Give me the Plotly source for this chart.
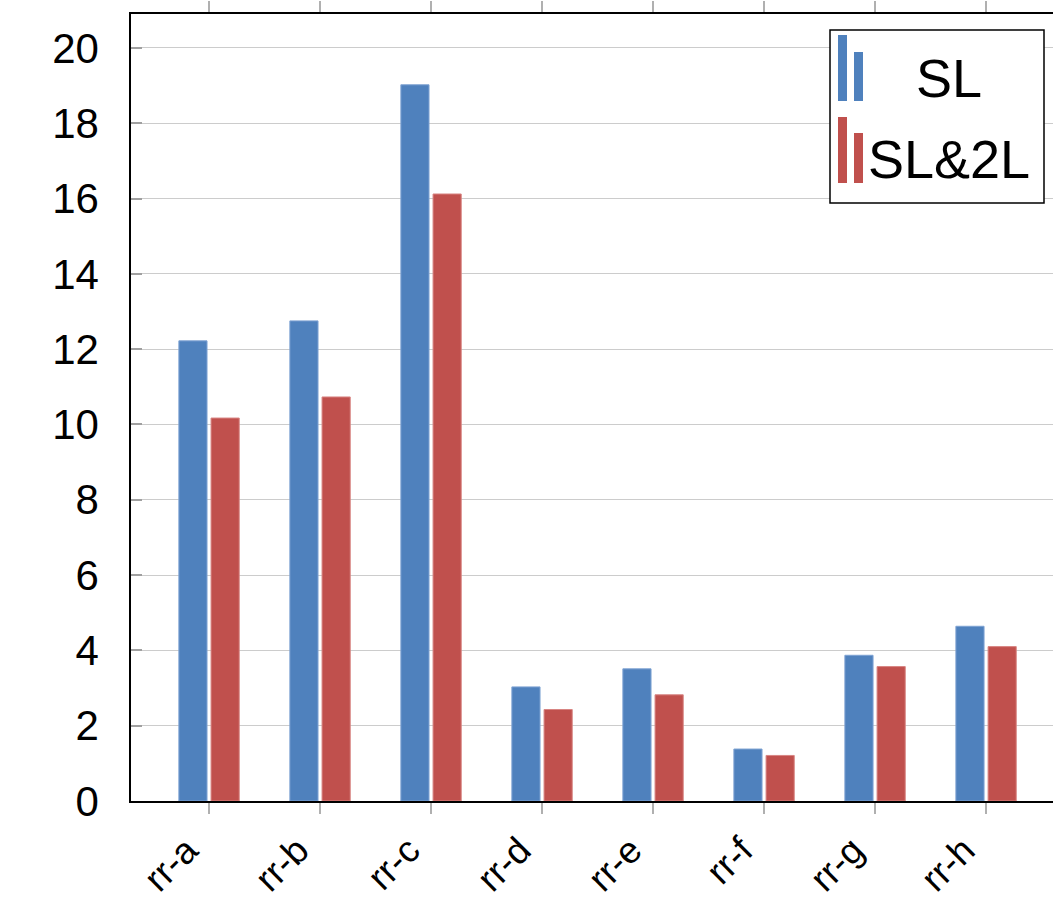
import plotly.graph_objects as go

# Data
categories = ["rr-a", "rr-b", "rr-c", "rr-d", "rr-e", "rr-f", "rr-g", "rr-h"]
sl_values = [12.22, 12.75, 19.02, 3.03, 3.51, 1.38, 3.87, 4.64]
sl2l_values = [10.17, 10.73, 16.12, 2.43, 2.82, 1.21, 3.57, 4.10]
series_names = ["SL", "SL&2L"]
y_ticks = [0, 2, 4, 6, 8, 10, 12, 14, 16, 18, 20]

BLUE = "#4F81BD"
RED = "#C0504D"
FONT = "Liberation Sans"

W, H = 1053, 900
M_L, M_R, M_T, M_B = 131, 0, 14, 99
plot_w = W - M_L - M_R
plot_h = H - M_T - M_B


def px_x(px):
    return (px - M_L) / plot_w


def px_y(py):
    return (H - M_B - py) / plot_h


fig = go.Figure()
fig.add_trace(go.Bar(
    x=categories, y=sl_values, name=series_names[0],
    marker=dict(color=BLUE, line=dict(color="#7FA3D3", width=1)),
    showlegend=False,
))
fig.add_trace(go.Bar(
    x=categories, y=sl2l_values, name=series_names[1],
    marker=dict(color=RED, line=dict(color="#D88583", width=1)),
    showlegend=False,
))

# Hand-drawn legend in the upper right corner
shapes = [
    dict(type="rect", xref="paper", yref="paper",
         x0=px_x(830), x1=px_x(1044), y0=px_y(203), y1=px_y(30),
         line=dict(color="black", width=1.5), fillcolor="white", layer="above"),
]
icon_specs = [
    (BLUE, 838, 847, 35, 101),
    (BLUE, 854, 863, 52, 101),
    (RED, 838, 847, 117, 183),
    (RED, 854, 863, 133, 183),
]
for col, xa, xb, ya, yb in icon_specs:
    shapes.append(dict(type="rect", xref="paper", yref="paper",
                       x0=px_x(xa), x1=px_x(xb), y0=px_y(yb), y1=px_y(ya),
                       line=dict(width=0), fillcolor=col, layer="above"))

annotations = [
    dict(text=series_names[0], xref="paper", yref="paper",
         x=px_x(949), y=px_y(78), xanchor="center", yanchor="middle",
         showarrow=False, font=dict(family=FONT, size=54, color="black")),
    dict(text=series_names[1], xref="paper", yref="paper",
         x=px_x(949), y=px_y(159), xanchor="center", yanchor="middle",
         showarrow=False, font=dict(family=FONT, size=54, color="black")),
]

fig.update_layout(
    width=W, height=H,
    margin=dict(l=M_L, r=M_R, t=M_T, b=M_B, autoexpand=False),
    paper_bgcolor="white", plot_bgcolor="white",
    barmode="group", bargap=0.42, bargroupgap=0.125,
    font=dict(family=FONT, size=42, color="black"),
    shapes=shapes, annotations=annotations,
    showlegend=False,
)
fig.update_xaxes(
    type="category", range=[-0.703, 7.603],
    showline=True, linecolor="black", linewidth=1.5, mirror="ticks",
    ticks="outside", ticklen=11, tickcolor="#b0b0b0", tickwidth=1.5,
    tickangle=-45, tickfont=dict(family=FONT, size=37, color="black"),
    ticklabelshift=-22,
    showgrid=False,
)
fig.update_yaxes(
    range=[0, 20.9], tickvals=y_ticks,
    showline=True, linecolor="black", linewidth=1.5, mirror=False,
    ticks="inside", ticklen=11, tickcolor="#a0a0a0", tickwidth=1.5,
    showgrid=True, gridcolor="#cccccc", gridwidth=1.2,
    zeroline=False, ticklabelstandoff=22,
    tickfont=dict(family=FONT, size=42, color="black"),
)

fig.write_html("out.html")
